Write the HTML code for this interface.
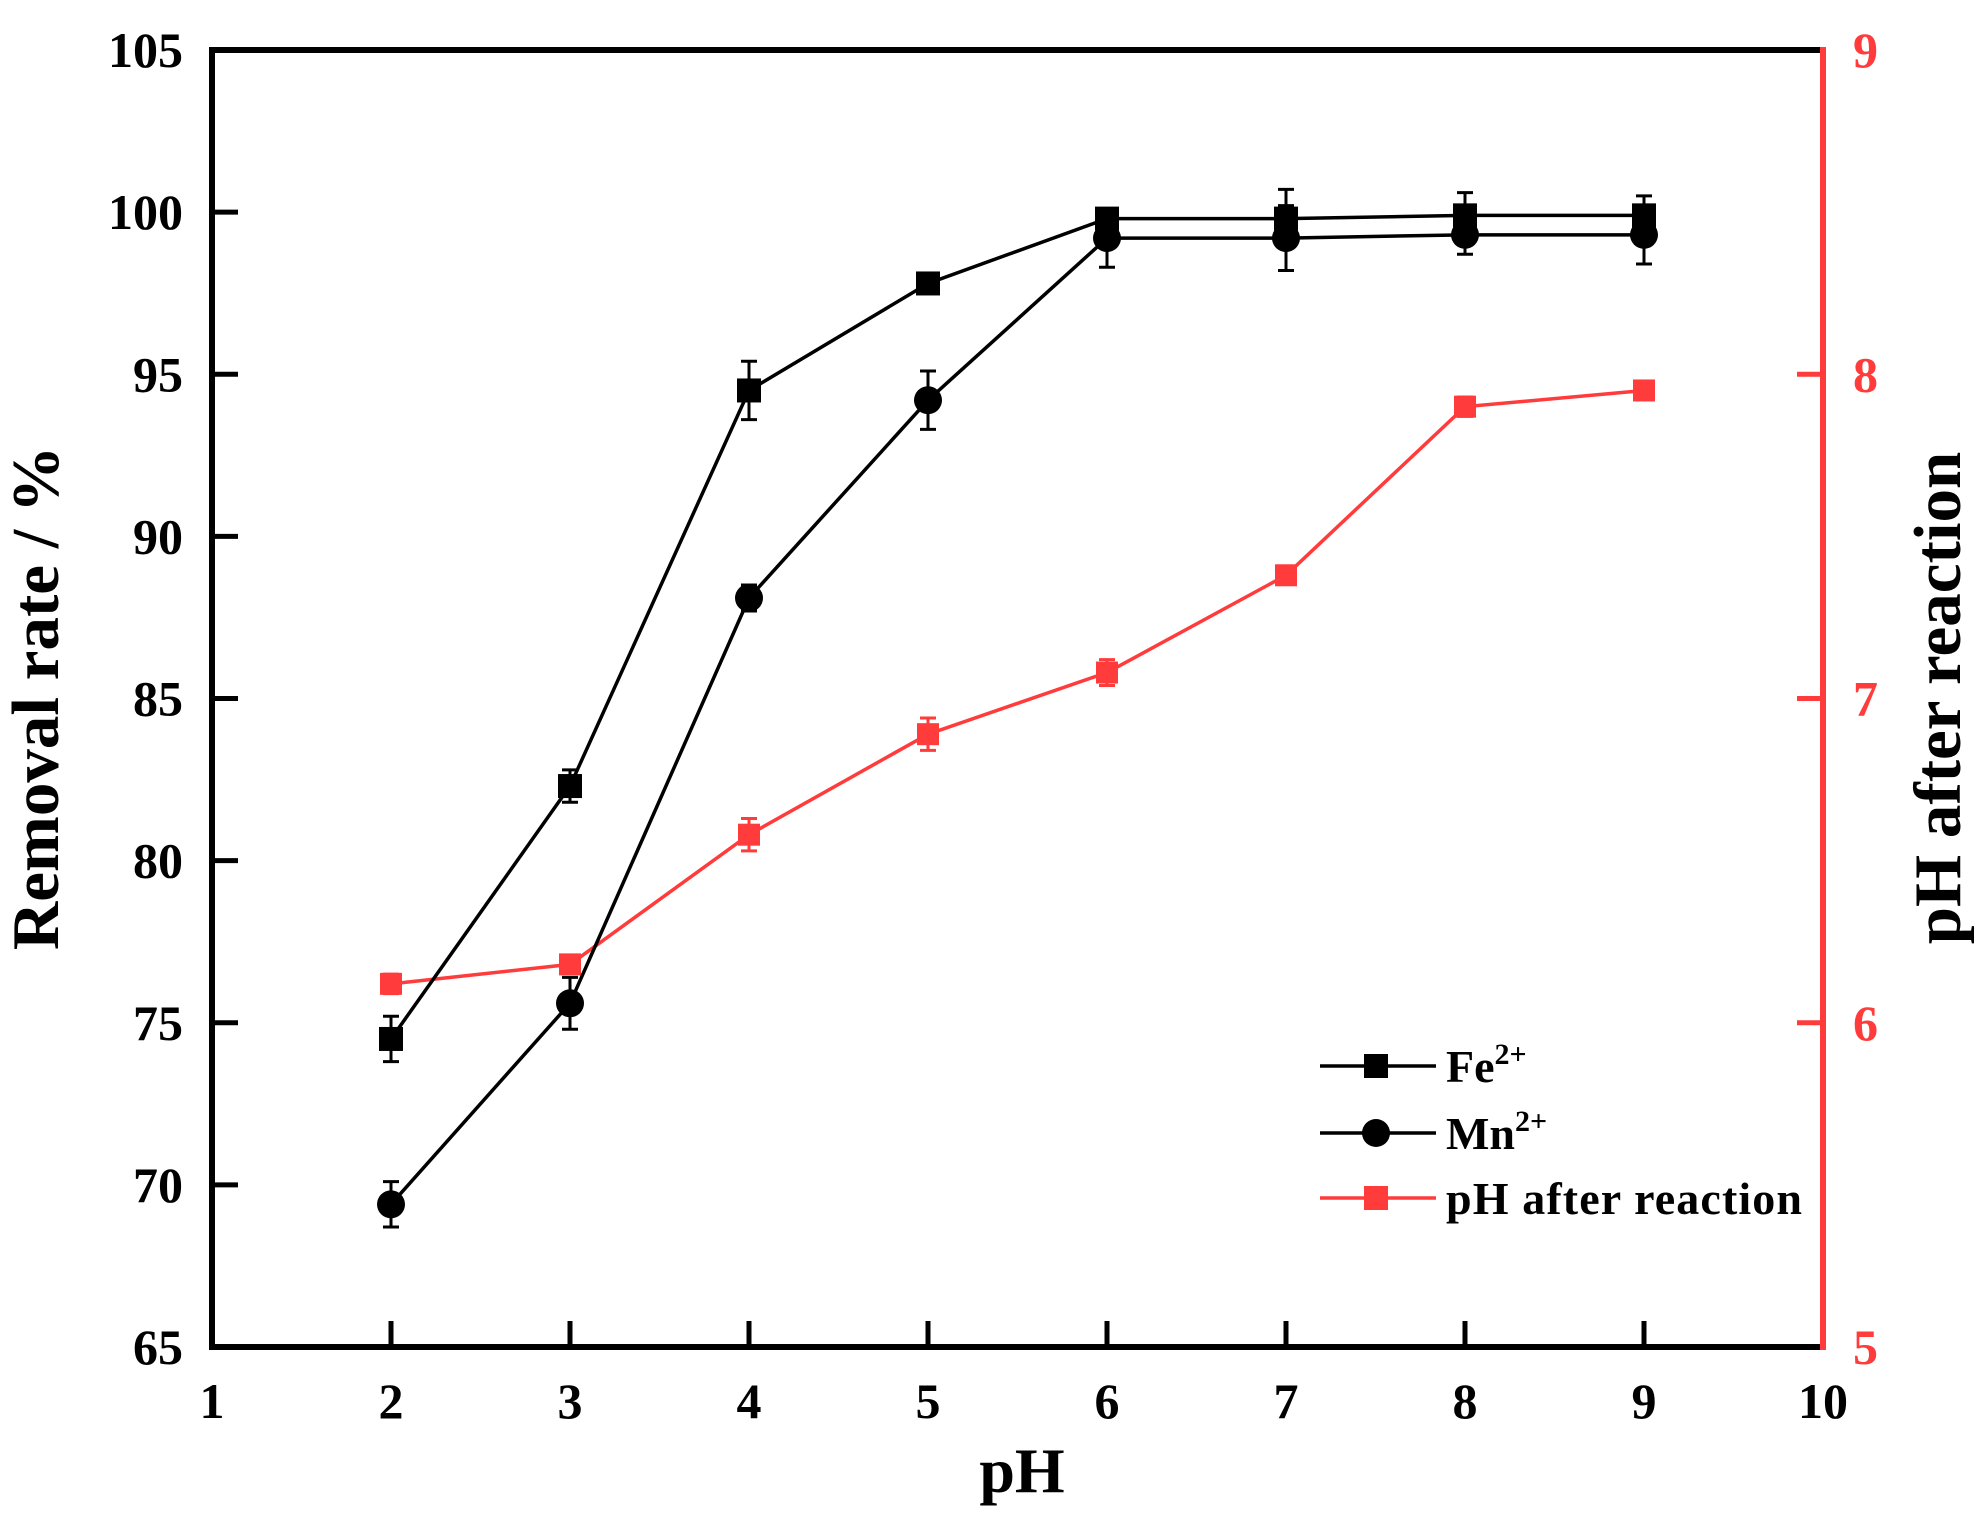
<!DOCTYPE html>
<html><head><meta charset="utf-8"><style>
html,body{margin:0;padding:0;background:#fff;}
svg{display:block;font-family:"Liberation Serif",serif;font-weight:bold;}
</style></head><body>
<svg id="chart" width="1986" height="1513" viewBox="0 0 1986 1513" xmlns="http://www.w3.org/2000/svg">
<g id="axes"></g>
<g id="series"></g>
<g id="legend"></g>
</svg>
<script>
const xCats = [2,3,4,5,6,7,8,9];
const feVals = [74.5,82.3,94.5,97.8,99.8,99.8,99.9,99.9];
const feErr = [0.7,0.5,0.9,0.3,0.3,0.9,0.7,0.6];
const mnVals = [69.4,75.6,88.1,94.2,99.2,99.2,99.3,99.3];
const mnErr = [0.7,0.8,0.4,0.9,0.9,1.0,0.6,0.9];
const phVals = [6.12,6.18,6.58,6.89,7.08,7.38,7.90,7.95];
const phErr = [0.03,0.02,0.05,0.05,0.04,0.02,0.03,0.02];
const xTicks = [1,2,3,4,5,6,7,8,9,10];
const yTicks = [65,70,75,80,85,90,95,100,105];
const y2Ticks = [5,6,7,8,9];

const L=212,R=1823,T=50,B=1347;
const sx=v=>L+(v-1)/(10-1)*(R-L);
const sy=v=>B-(v-65)/(105-65)*(B-T);
const sy2=v=>B-(v-5)/(9-5)*(B-T);
const NS="http://www.w3.org/2000/svg";
function mk(tag,attrs,parent){const e=document.createElementNS(NS,tag);for(const k in attrs)e.setAttribute(k,attrs[k]);parent.appendChild(e);return e;}
const axes=document.getElementById('axes'),ser=document.getElementById('series'),leg=document.getElementById('legend');
const RED="#ff3b3b";

let e;
e=mk('line',{x1:L,y1:T,x2:R,y2:T,stroke:'#000','stroke-width':6},axes);

e=mk('line',{x1:L,y1:T-3,x2:L,y2:B+3,stroke:'#000','stroke-width':6},axes);

e=mk('line',{x1:L,y1:B,x2:R,y2:B,stroke:'#000','stroke-width':6},axes);

e=mk('line',{x1:R,y1:T-3,x2:R,y2:B+3,stroke:RED,'stroke-width':6},axes);


xTicks.forEach(v=>{
  if(v>1&&v<10){e=mk('line',{x1:sx(v),y1:B,x2:sx(v),y2:B-26,stroke:'#000','stroke-width':5},axes);
  }
  e=mk('text',{x:sx(v),y:1418,'text-anchor':'middle','font-size':50,fill:'#000'},axes);e.textContent=v;
  
});
yTicks.forEach(v=>{
  if(v>65&&v<105){e=mk('line',{x1:L,y1:sy(v),x2:L+26,y2:sy(v),stroke:'#000','stroke-width':5},axes);
  }
  e=mk('text',{x:183,y:sy(v)+17,'text-anchor':'end','font-size':50,fill:'#000'},axes);e.textContent=v;
  
});
y2Ticks.forEach(v=>{
  if(v>5&&v<9){e=mk('line',{x1:R,y1:sy2(v),x2:R-26,y2:sy2(v),stroke:RED,'stroke-width':5},axes);
  }
  e=mk('text',{x:1853,y:sy2(v)+17,'text-anchor':'start','font-size':50,fill:RED},axes);e.textContent=v;
  
});
e=mk('text',{x:1022,y:1492,'text-anchor':'middle','font-size':64,fill:'#000'},axes);e.textContent='pH';

e=mk('text',{x:0,y:0,'text-anchor':'middle','font-size':67,fill:'#000',transform:'translate(58,698) rotate(-90)'},axes);e.textContent='Removal rate / %';

e=mk('text',{x:0,y:0,'text-anchor':'middle','font-size':67,fill:'#000',transform:'translate(1960,698) rotate(-90)'},axes);e.textContent='pH after reaction';


function drawSeries(vals,errs,scale,color,marker,name){
  const pts=xCats.map((x,i)=>sx(x)+','+scale(vals[i])).join(' ');
  e=mk('polyline',{points:pts,fill:'none',stroke:color,'stroke-width':3.5},ser);
  
  xCats.forEach((x,i)=>{
    const cx=sx(x),y1=scale(vals[i]+errs[i]),y2=scale(vals[i]-errs[i]);
    e=mk('path',{d:`M${cx},${y1}V${y2}M${cx-8},${y1}H${cx+8}M${cx-8},${y2}H${cx+8}`,stroke:color,'stroke-width':3,fill:'none'},ser);
    
    const cy=scale(vals[i]);
    if(marker==='circle'){e=mk('circle',{cx:cx,cy:cy,r:14,fill:color},ser);}
    else{const s=marker==='sq'?24:22;e=mk('rect',{x:cx-s/2,y:cy-s/2,width:s,height:s,fill:color},ser);}
    
  });
}
drawSeries(phVals,phErr,sy2,RED,'sq2','ph-after');
drawSeries(mnVals,mnErr,sy,'#000','circle','mn');
drawSeries(feVals,feErr,sy,'#000','sq','fe');

function legEntry(y,color,marker,name,build){
  e=mk('line',{x1:1320,y1:y,x2:1436,y2:y,stroke:color,'stroke-width':3.5},leg);
  
  if(marker==='circle')e=mk('circle',{cx:1376,cy:y,r:14,fill:color},leg);
  else e=mk('rect',{x:1364,y:y-12,width:24,height:24,fill:color},leg);
  
  const t=mk('text',{x:1446,y:y+16,'font-size':46,fill:'#000'},leg);
  
  build(t);
}
legEntry(1066,'#000','sq','fe',t=>{t.innerHTML='Fe<tspan dy="-18" font-size="30">2+</tspan>';});
legEntry(1133,'#000','circle','mn',t=>{t.innerHTML='Mn<tspan dy="-18" font-size="30">2+</tspan>';});
legEntry(1198,RED,'sq','ph-after',t=>{t.textContent='pH after reaction';t.setAttribute('textLength','356');});
</script>
</body></html>
